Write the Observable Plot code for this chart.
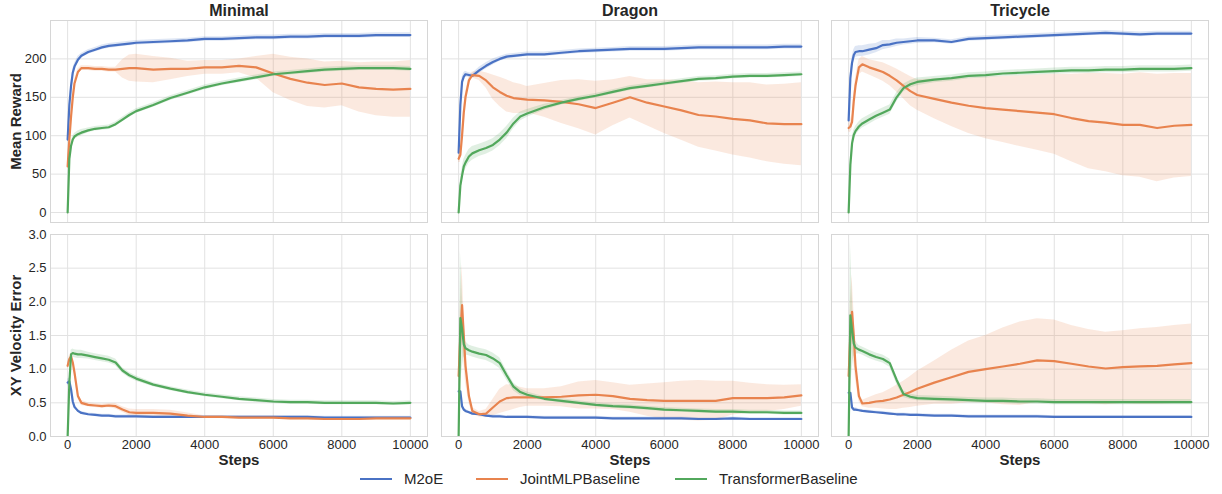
<!DOCTYPE html>
<html>
<head>
<meta charset="utf-8">
<script src="https://cdn.jsdelivr.net/npm/d3@7"></script>
<script src="https://cdn.jsdelivr.net/npm/@observablehq/plot@0.6"></script>
<style>
  html, body { margin: 0; padding: 0; background: #fff; }
  body { font-family: "Liberation Sans", Arial, sans-serif; }
  #chart { position: relative; width: 1222px; height: 494px; overflow: hidden; }
  #chart svg { position: absolute; }
  .item { position: absolute; top: 469px; height: 20px; line-height: 20px; font-size: 15px; color: #262626; display: flex; align-items: center; white-space: nowrap; }
  .sw { display: inline-block; width: 32px; height: 2px; margin-right: 12px; }
</style>
</head>
<body>
<div id="chart"></div>
<script>
// ---------------- data ----------------
const steps = [0,50,100,150,200,300,400,600,800,1000,1200,1400,1600,1800,2000,2500,3000,3500,4000,4500,5000,5500,6000,6500,7000,7500,8000,8500,9000,9500,10000];
const seriesNames = ["M2oE", "JointMLPBaseline", "TransformerBaseline"];
const seriesColors = ["#4a72c4", "#e8834e", "#52a85c"];
const envNames = ["Minimal", "Dragon", "Tricycle"];
const xTicks = [0, 2000, 4000, 6000, 8000, 10000];
const rewardTicks = [0, 50, 100, 150, 200];
const errorTicks = [0, 0.5, 1.0, 1.5, 2.0, 2.5, 3.0];

// Mean Reward — Minimal
const rewMinimalM2oE = [95,140,165,182,190,199,204,209,212,215,217,218,219,220,221,222,223,224,226,226,227,228,228,229,229,230,230,230,231,231,231];
const rewMinimalM2oESd = [4,5,5,5,4,4,3,3,3,3,3,3,3,3,3,3,3,3,3,3,3,3,3,3,3,3,3,3,3,3,3];
const rewMinimalJoint = [60,95,125,150,168,183,188,188,187,187,186,186,187,188,188,186,187,187,189,189,191,189,181,174,169,166,168,163,161,160,161];
const rewMinimalJointSd = [5,6,6,6,5,4,3,3,3,3,3,3,12,17,18,17,14,10,9,9,9,14,25,28,31,30,29,32,35,36,37];
const rewMinimalTrans = [0,70,87,95,99,102,104,107,109,110,111,115,121,127,132,140,149,156,163,168,172,176,180,182,184,186,187,188,188,188,187];
const rewMinimalTransSd = [0,4,4,4,4,4,4,3,3,3,3,3,3,3,3,3,3,3,3,3,3,3,3,3,3,3,3,3,3,3,3];

// Mean Reward — Dragon
const rewDragonM2oE = [78,140,170,177,180,179,178,185,191,196,200,203,204,205,206,206,208,210,211,212,213,213,213,214,215,215,215,215,215,216,216];
const rewDragonM2oESd = [5,6,6,5,4,3,3,4,4,4,3,3,3,3,3,3,3,3,3,3,3,3,3,3,3,3,3,3,3,3,3];
const rewDragonJoint = [70,75,100,130,150,172,179,178,172,163,157,152,149,148,147,146,144,141,136,143,150,143,138,133,127,125,122,120,116,115,115];
const rewDragonJointSd = [5,10,10,8,6,5,4,6,10,16,19,21,20,19,17,22,28,32,35,30,27,30,35,39,42,45,47,49,50,52,54];
const rewDragonTrans = [0,35,48,60,65,73,77,81,84,88,95,104,116,125,129,137,143,148,152,157,162,165,168,171,174,175,177,178,178,179,180];
const rewDragonTransSd = [0,8,9,9,9,9,9,8,8,8,8,8,7,6,5,4,3,3,3,3,3,3,3,3,3,3,3,3,3,3,3];

// Mean Reward — Tricycle
const rewTricycleM2oE = [120,175,195,205,209,210,210,212,214,218,219,221,222,223,224,224,222,226,227,228,229,230,231,232,233,234,233,232,233,233,233];
const rewTricycleM2oESd = [6,7,7,7,7,7,7,7,6,6,5,5,4,4,4,3,3,3,3,3,3,3,3,3,3,3,3,3,3,3,3];
const rewTricycleJoint = [110,112,118,145,165,189,193,189,186,183,178,172,165,158,153,148,143,139,136,134,132,130,128,123,119,117,114,114,110,113,114];
const rewTricycleJointSd = [5,8,10,10,10,10,10,10,11,12,13,15,17,19,20,26,31,36,40,43,46,49,52,57,62,64,66,68,70,68,67];
const rewTricycleTrans = [0,62,90,101,106,112,116,121,126,130,134,150,162,167,170,173,175,178,179,181,182,183,184,185,185,186,186,187,187,187,188];
const rewTricycleTransSd = [0,6,6,6,6,6,6,6,6,6,6,6,5,5,5,4,4,4,4,4,4,4,4,4,4,4,4,4,4,4,4];

// XY Velocity Error — Minimal
const errMinimalM2oE = [0.80,0.82,0.70,0.52,0.44,0.38,0.35,0.33,0.32,0.31,0.31,0.30,0.30,0.30,0.30,0.29,0.29,0.29,0.29,0.29,0.29,0.29,0.29,0.29,0.29,0.28,0.28,0.28,0.28,0.28,0.28];
const errMinimalM2oESd = [0.05,0.05,0.05,0.04,0.03,0.02,0.02,0.02,0.02,0.02,0.02,0.02,0.02,0.02,0.02,0.02,0.02,0.02,0.02,0.02,0.02,0.02,0.02,0.02,0.02,0.02,0.02,0.02,0.02,0.02,0.02];
const errMinimalJoint = [1.05,1.15,1.19,1.10,0.95,0.60,0.50,0.47,0.46,0.45,0.46,0.45,0.40,0.36,0.35,0.35,0.34,0.31,0.29,0.29,0.28,0.28,0.28,0.27,0.27,0.26,0.26,0.26,0.27,0.27,0.27];
const errMinimalJointSd = [0.05,0.05,0.05,0.05,0.05,0.04,0.04,0.03,0.03,0.03,0.03,0.04,0.04,0.05,0.05,0.05,0.05,0.04,0.02,0.02,0.02,0.02,0.02,0.02,0.02,0.02,0.02,0.02,0.02,0.02,0.02];
const errMinimalTrans = [0,0.80,1.22,1.24,1.23,1.22,1.22,1.20,1.18,1.16,1.14,1.10,0.98,0.91,0.86,0.77,0.71,0.66,0.62,0.59,0.56,0.54,0.52,0.51,0.51,0.50,0.50,0.50,0.50,0.49,0.50];
const errMinimalTransSd = [0,0.05,0.06,0.06,0.06,0.06,0.06,0.05,0.05,0.05,0.05,0.05,0.04,0.04,0.04,0.03,0.03,0.03,0.03,0.03,0.03,0.03,0.03,0.03,0.03,0.03,0.03,0.03,0.03,0.03,0.03];

// XY Velocity Error — Dragon
const errDragonM2oE = [0.67,0.67,0.45,0.40,0.38,0.36,0.34,0.33,0.31,0.30,0.30,0.29,0.29,0.29,0.29,0.28,0.28,0.28,0.28,0.27,0.27,0.27,0.27,0.27,0.26,0.26,0.27,0.26,0.26,0.26,0.26];
const errDragonM2oESd = [0.04,0.04,0.04,0.03,0.03,0.02,0.02,0.02,0.02,0.02,0.02,0.02,0.02,0.02,0.02,0.02,0.02,0.02,0.02,0.02,0.02,0.02,0.02,0.02,0.02,0.02,0.02,0.02,0.02,0.02,0.02];
const errDragonJoint = [0.90,1.50,1.95,1.51,1.05,0.60,0.38,0.33,0.34,0.43,0.52,0.57,0.58,0.58,0.58,0.58,0.59,0.61,0.62,0.60,0.56,0.54,0.53,0.53,0.53,0.53,0.57,0.57,0.57,0.58,0.61];
const errDragonJointSd = [0.30,0.50,0.60,0.40,0.25,0.10,0.05,0.04,0.06,0.12,0.18,0.20,0.18,0.15,0.13,0.13,0.15,0.20,0.21,0.20,0.20,0.24,0.27,0.29,0.30,0.29,0.25,0.22,0.20,0.18,0.16];
const errDragonTrans = [0,1.76,1.60,1.37,1.31,1.28,1.26,1.23,1.21,1.16,1.09,0.91,0.74,0.66,0.62,0.56,0.53,0.50,0.47,0.45,0.44,0.42,0.40,0.39,0.38,0.37,0.37,0.36,0.36,0.35,0.35];
const errDragonTransSd = [0,1.00,0.60,0.20,0.10,0.08,0.08,0.08,0.08,0.08,0.08,0.07,0.06,0.05,0.04,0.03,0.03,0.03,0.03,0.03,0.03,0.03,0.03,0.03,0.03,0.03,0.03,0.03,0.03,0.03,0.03];

// XY Velocity Error — Tricycle
const errTricycleM2oE = [0.65,0.65,0.43,0.40,0.40,0.39,0.38,0.37,0.36,0.35,0.34,0.33,0.33,0.32,0.32,0.31,0.31,0.30,0.30,0.30,0.30,0.30,0.29,0.29,0.29,0.29,0.29,0.29,0.29,0.29,0.29];
const errTricycleM2oESd = [0.04,0.04,0.04,0.03,0.03,0.02,0.02,0.02,0.02,0.02,0.02,0.02,0.02,0.02,0.02,0.02,0.02,0.02,0.02,0.02,0.02,0.02,0.02,0.02,0.02,0.02,0.02,0.02,0.02,0.02,0.02];
const errTricycleJoint = [0.90,1.50,1.85,1.50,1.05,0.60,0.49,0.50,0.52,0.53,0.55,0.58,0.62,0.66,0.71,0.80,0.88,0.96,1.00,1.04,1.08,1.13,1.12,1.08,1.04,1.01,1.03,1.04,1.05,1.07,1.09];
const errTricycleJointSd = [0.30,0.50,0.55,0.40,0.20,0.08,0.05,0.08,0.10,0.12,0.15,0.18,0.20,0.23,0.26,0.32,0.40,0.46,0.50,0.57,0.62,0.62,0.61,0.57,0.55,0.54,0.54,0.56,0.57,0.58,0.58];
const errTricycleTrans = [0,1.80,1.58,1.38,1.32,1.29,1.27,1.22,1.18,1.15,1.09,0.84,0.63,0.59,0.57,0.56,0.55,0.54,0.53,0.53,0.52,0.52,0.51,0.51,0.51,0.51,0.51,0.51,0.51,0.51,0.51];
const errTricycleTransSd = [0,1.10,0.60,0.20,0.10,0.06,0.06,0.06,0.06,0.06,0.06,0.06,0.05,0.04,0.04,0.04,0.04,0.04,0.04,0.04,0.04,0.04,0.04,0.04,0.04,0.04,0.04,0.04,0.04,0.04,0.04];

// ---------------- assembly ----------------
const panelSeries = [
  [ // reward row
    [[rewMinimalM2oE, rewMinimalM2oESd], [rewMinimalJoint, rewMinimalJointSd], [rewMinimalTrans, rewMinimalTransSd]],
    [[rewDragonM2oE, rewDragonM2oESd], [rewDragonJoint, rewDragonJointSd], [rewDragonTrans, rewDragonTransSd]],
    [[rewTricycleM2oE, rewTricycleM2oESd], [rewTricycleJoint, rewTricycleJointSd], [rewTricycleTrans, rewTricycleTransSd]]
  ],
  [ // error row
    [[errMinimalM2oE, errMinimalM2oESd], [errMinimalJoint, errMinimalJointSd], [errMinimalTrans, errMinimalTransSd]],
    [[errDragonM2oE, errDragonM2oESd], [errDragonJoint, errDragonJointSd], [errDragonTrans, errDragonTransSd]],
    [[errTricycleM2oE, errTricycleM2oESd], [errTricycleJoint, errTricycleJointSd], [errTricycleTrans, errTricycleTransSd]]
  ]
];

const rowsCfg = [
  {label: "Mean Reward", domain: [-13, 250], ticks: rewardTicks, fmt: d3.format("d")},
  {label: "XY Velocity Error", domain: [0, 3], ticks: errorTicks, fmt: d3.format(".1f")}
];

const FONT = '"Liberation Sans", Arial, sans-serif';
const TXT = "#262626";
const frameW = 377, frameH = 202;
const colX = [50, 441, 831];
const rowY = [20, 234];
const chart = document.getElementById("chart");

for (let r = 0; r < 2; r++) {
  for (let c = 0; c < 3; c++) {
    const data = [];
    panelSeries[r][c].forEach(([m, sd], i) => {
      steps.forEach((s, k) => data.push({series: seriesNames[i], step: s, mean: m[k], lo: m[k] - sd[k], hi: m[k] + sd[k]}));
    });
    const cfg = rowsCfg[r];
    const ml = c === 0 ? 50 : 6, mr = 6;
    const mt = r === 0 ? 20 : 6, mb = r === 1 ? 40 : 4;
    const marks = [
      Plot.gridX({ticks: xTicks, stroke: "#e2e2e2", strokeOpacity: 1, strokeWidth: 1}),
      Plot.gridY({ticks: cfg.ticks, stroke: "#e2e2e2", strokeOpacity: 1, strokeWidth: 1}),
      Plot.frame({stroke: "#d6d6d6", strokeWidth: 1}),
      Plot.areaY(data, {x: "step", y1: "lo", y2: "hi", z: "series", fill: "series", fillOpacity: 0.18, clip: true}),
      Plot.lineY(data, {x: "step", y: "mean", z: "series", stroke: "series", strokeWidth: 2.2, clip: true})
    ];
    if (c === 0) {
      marks.push(Plot.axisY({ticks: cfg.ticks, tickSize: 0, tickPadding: 4, tickFormat: cfg.fmt, fontSize: 13, fill: TXT, label: null}));
      marks.push(Plot.text([cfg.label], {text: d => d, frameAnchor: "left", dx: -34, rotate: -90, fontSize: 15, fontWeight: "bold", fill: TXT, textAnchor: "middle", lineAnchor: "middle"}));
    }
    if (r === 1) {
      marks.push(Plot.axisX({ticks: xTicks, tickSize: 0, tickPadding: 3, tickFormat: d3.format("d"), fontSize: 13, fill: TXT, label: null}));
      marks.push(Plot.text(["Steps"], {text: d => d, frameAnchor: "bottom", dy: 24, fontSize: 15, fontWeight: "bold", fill: TXT, textAnchor: "middle", lineAnchor: "middle"}));
    }
    if (r === 0) {
      marks.push(Plot.text([envNames[c]], {text: d => d, frameAnchor: "top", dy: -10, fontSize: 16, fontWeight: "bold", fill: TXT, textAnchor: "middle", lineAnchor: "middle"}));
    }
    const svg = Plot.plot({
      width: ml + frameW + mr,
      height: mt + frameH + mb,
      marginLeft: ml, marginRight: mr, marginTop: mt, marginBottom: mb,
      style: {background: "transparent", overflow: "visible", fontFamily: FONT, color: TXT},
      x: {domain: [-500, 10500], axis: null},
      y: {domain: cfg.domain, axis: null},
      color: {domain: seriesNames, range: seriesColors},
      marks
    });
    svg.style.left = (colX[c] - ml) + "px";
    svg.style.top = (rowY[r] - mt) + "px";
    chart.appendChild(svg);
  }
}

// legend
const legendLefts = [360, 476, 675];
seriesNames.forEach((name, i) => {
  const item = document.createElement("div");
  item.className = "item";
  item.style.left = legendLefts[i] + "px";
  const sw = document.createElement("span");
  sw.className = "sw";
  sw.style.background = seriesColors[i];
  const label = document.createElement("span");
  label.textContent = name;
  item.appendChild(sw);
  item.appendChild(label);
  chart.appendChild(item);
});
</script>
</body>
</html>
